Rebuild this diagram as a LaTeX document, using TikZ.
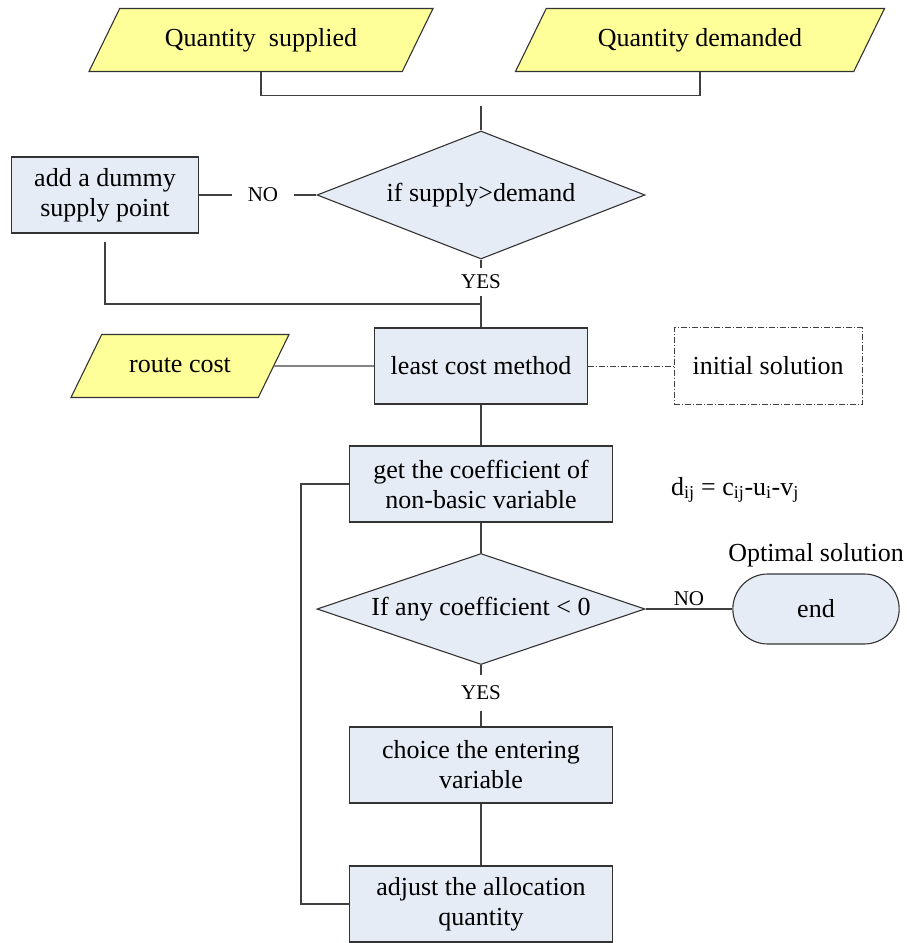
\documentclass[tikz,border=0pt]{standalone}
\usepackage{fontspec}
\setmainfont{Liberation Serif}
\usetikzlibrary{shapes.geometric, shapes.misc, positioning}
\definecolor{ioyellow}{HTML}{FFFF99}
\definecolor{procblue}{HTML}{E6ECF6}

\begin{document}
\begin{tikzpicture}[x=1pt, y=-1pt,
    every node/.style={font=\fontsize{26}{30}\selectfont},
    proc/.style={draw=black!80, fill=procblue, line width=1.1pt, minimum width=263pt, minimum height=76pt, align=center, inner sep=2pt},
    io/.style={trapezium, trapezium left angle=64, trapezium right angle=116, trapezium stretches body, draw=black!80, fill=ioyellow, line width=1.1pt, text height=18pt, text depth=6pt, inner ysep=19.5pt, inner xsep=4pt},
    decide/.style={diamond, draw=black!80, fill=procblue, line width=1.1pt, inner sep=0pt},
    yesno/.style={font=\fontsize{21}{24}\selectfont, inner xsep=4pt, inner ysep=7pt},
    link/.style={draw=black!75, line width=1.1pt},
    dashdot/.style={draw=black!75, line width=1pt, dash pattern=on 6pt off 2pt on 1pt off 2pt}]
    \useasboundingbox (0,0) rectangle (907,943);

    % Inputs
    \node[io, minimum width=344pt] (qs) at (261,40) {Quantity\ \ supplied};
    \node[io, minimum width=369pt] (qd) at (700,40) {Quantity demanded};
    \draw[link] (qs.center |- qs.south) -- ++(0,23) -| (qd.center |- qd.south);
    \coordinate (feed) at (481,106);

    % Balance check
    \node[decide, aspect=2.56, minimum width=328pt, minimum height=128pt] (sd) at (481,195) {if supply>demand};
    \node[proc, minimum width=187pt] (dummy) at (105,195) {add a dummy\\supply point};
    \node[yesno, inner xsep=16pt] (no1) at (263,195) {NO};
    \node[yesno] (yes1) at (481,282) {YES};
    \coordinate (join) at (481,304);

    % Initial solution
    \node[proc, minimum width=213pt] (lcm) at (481,366) {least cost method};
    \node[io, minimum width=218pt] (rc) at (180,366) {route cost};
    \node[dashdot, minimum width=188pt, minimum height=77pt] (init) at (768,366) {initial solution};

    % Optimality test
    \node[proc] (coef) at (481,484) {get the coefficient of\\non-basic variable};
    \node (dij) at (735,490) {d\textsubscript{ij} = c\textsubscript{ij}-u\textsubscript{i}-v\textsubscript{j}};
    \node[decide, aspect=2.95, minimum width=328pt, minimum height=111pt] (any) at (481,609) {If any coefficient < 0};
    \node[rounded rectangle, draw=black!80, fill=procblue, line width=1.1pt, minimum width=173pt, minimum height=70pt] (endn) at (816,609) {end};
    \node[above=3pt of endn] (opt) {Optimal solution};
    \node[yesno, inner ysep=11pt] (yes2) at (481,693) {YES};

    % Improvement
    \node[proc] (enter) at (481,765) {choice the entering\\variable};
    \node[proc] (adjust) at (481,904) {adjust the allocation\\quantity};

    % Connectors
    \draw[link] (feed) -- (sd.north);
    \draw[link] (sd.west) -- (no1) -- (dummy.east);
    \draw[link] (sd.south) -- (yes1) -- (lcm.north);
    \draw[link] ([yshift=-8pt]dummy.south) |- (join);
    \draw[link] (rc.east) -- (lcm.west);
    \draw[dashdot] (lcm.east) -- (init.west);
    \draw[link] (lcm.south) -- (coef.north);
    \draw[link] (coef.south) -- (any.north);
    \draw[link] (any.east) -- node[yesno, above, inner ysep=3pt] (no2) {NO} (endn.west);
    \draw[link] (any.south) -- (yes2) -- (enter.north);
    \draw[link] (enter.south) -- (adjust.north);
    \draw[link] (coef.west) -- ++(-48,0) |- (adjust.west);
\end{tikzpicture}
\end{document}
